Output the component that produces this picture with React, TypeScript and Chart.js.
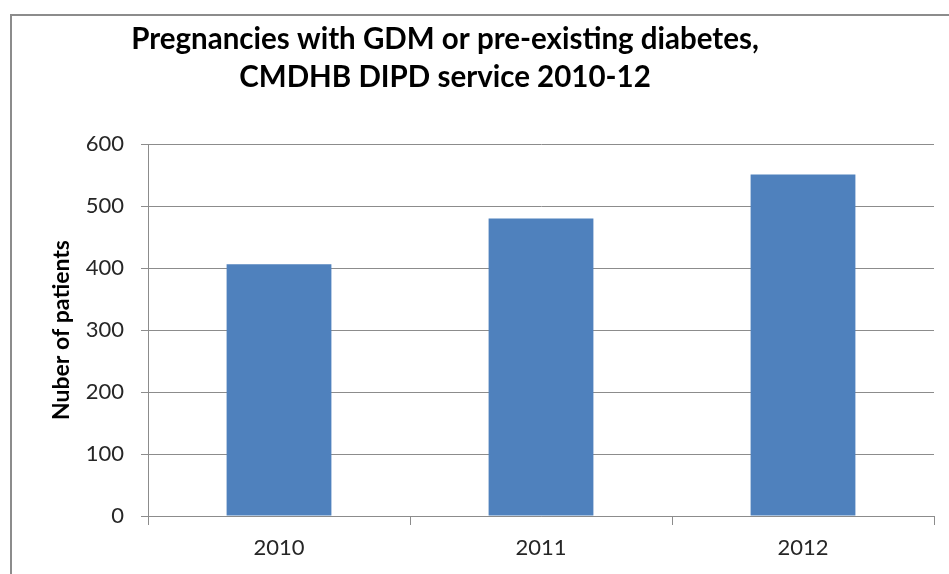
import React, { useEffect, useRef } from "react";
import { Chart, registerables } from "chart.js";

Chart.register(...registerables);

const categories = ["2010", "2011", "2012"];
const patients = [406, 480, 551];
const titleLines = [
  "Pregnancies with GDM or pre-existing diabetes,",
  "CMDHB DIPD service 2010-12",
];
const yAxisTitle = "Nuber of patients";

const FONT = "Lato, 'Open Sans', sans-serif";

const titlePlugin = {
  id: "manualTitle",
  afterDraw(chart: any) {
    const ctx = chart.ctx;
    ctx.save();
    ctx.fillStyle = "#000000";
    ctx.font = `bold 29.5px ${FONT}`;
    ctx.textAlign = "center";
    ctx.textBaseline = "alphabetic";
    const cx = 433;
    ctx.fillText(titleLines[0], cx, 33);
    ctx.fillText(titleLines[1], cx, 71);
    ctx.restore();
  },
};

export default function App() {
  const ref = useRef<HTMLCanvasElement | null>(null);

  useEffect(() => {
    if (!ref.current) return;
    const chart = new Chart(ref.current, {
      type: "bar",
      data: {
        labels: categories,
        datasets: [
          {
            label: "Patients",
            data: patients,
            backgroundColor: "#4F81BD",
            borderWidth: 0,
            barPercentage: 0.4,
            categoryPercentage: 1,
          },
        ],
      },
      options: {
        animation: false,
        responsive: true,
        maintainAspectRatio: false,
        layout: { padding: { top: 128, right: 15, left: 0, bottom: 0 } },
        plugins: {
          legend: { display: false },
          title: { display: false },
          tooltip: { enabled: false },
        },
        scales: {
          x: {
            offset: true,
            grid: {
              display: true,
              drawOnChartArea: false,
              drawTicks: true,
              tickLength: 9,
              color: "#8c8c8c",
              offset: true,
            },
            border: { display: true, color: "#8c8c8c", width: 1 },
            ticks: {
              color: "#262626",
              font: { family: FONT, size: 22 },
              padding: 10,
            },
            afterFit(scale: any) {
              scale.height = 58;
            },
          },
          y: {
            min: 0,
            max: 600,
            ticks: {
              stepSize: 100,
              color: "#262626",
              font: { family: FONT, size: 22 },
              padding: 17,
            },
            grid: {
              color: "#8c8c8c",
              tickLength: 7,
              lineWidth: 1,
            },
            border: { display: true, color: "#8c8c8c", width: 1 },
            title: {
              display: true,
              text: yAxisTitle,
              color: "#000000",
              font: { family: FONT, size: 23, weight: "bold" },
              padding: { top: 36, bottom: 0 },
            },
            afterFit(scale: any) {
              scale.width = 136;
            },
          },
        },
      },
      plugins: [titlePlugin],
    });
    return () => chart.destroy();
  }, []);

  return (
    <div
      style={{
        position: "fixed",
        left: 10,
        top: 14,
        width: 960,
        height: 580,
        borderLeft: "2px solid #8c8c8c",
        borderTop: "2px solid #8c8c8c",
        background: "#ffffff",
      }}
    >
      <div style={{ position: "absolute", left: 0, top: 0, width: 937, height: 558 }}>
        <canvas ref={ref} />
      </div>
    </div>
  );
}
